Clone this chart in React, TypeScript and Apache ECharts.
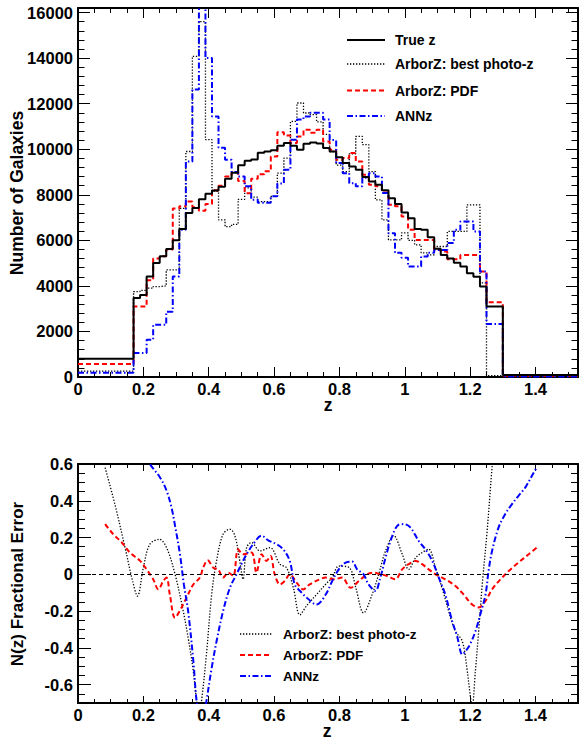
import React, { useEffect, useRef } from 'react';
import * as echarts from 'echarts';

// ---------- Top panel: histogram bins (z edges) ----------
const binEdges = [
  0, 0.17, 0.19, 0.21, 0.23, 0.25, 0.27, 0.29, 0.31, 0.33, 0.35, 0.37, 0.39, 0.41, 0.43, 0.45,
  0.47, 0.49, 0.51, 0.53, 0.55, 0.57, 0.59, 0.61, 0.63, 0.65, 0.67, 0.69, 0.71, 0.73, 0.75,
  0.77, 0.79, 0.81, 0.83, 0.85, 0.87, 0.89, 0.91, 0.93, 0.95, 0.97, 0.99, 1.01, 1.03, 1.05,
  1.07, 1.09, 1.11, 1.13, 1.15, 1.17, 1.19, 1.21, 1.23, 1.25, 1.3, 1.53,
];

const trueZCounts = [
  800, 3470, 3600, 4410, 5000, 5300, 5620, 6000, 6500, 7200, 7420, 7800, 8040, 8190, 8350,
  8700, 8970, 9300, 9490, 9550, 9850, 9900, 9950, 10150, 10270, 10150, 9980, 10240, 10300,
  10250, 10050, 9900, 9650, 9390, 9240, 9100, 8780, 8580, 8440, 8200, 7850, 7600, 7220, 6970,
  6500, 6460, 6140, 5630, 5360, 5200, 5020, 4850, 4560, 4400, 3970, 3090, 90,
];

const bestPhotoZCounts = [
  260, 3750, 3800, 3900, 3970, 4000, 4700, 4700, 7400, 9900, 14080, 15600, 10420, 8150, 6900,
  6600, 6700, 7800, 8300, 7900, 7700, 7700, 7930, 8950, 9610, 11220, 12030, 11590, 11520,
  11200, 10650, 9900, 9300, 9020, 9800, 10560, 10200, 9020, 7780, 6900, 6020, 6020, 6330, 6000,
  5800, 5450, 5360, 5730, 5730, 6390, 6390, 6390, 7560, 7560, 4130, 60, 80,
];

const pdfCounts = [
  570, 3100, 3100, 4250, 5200, 5300, 5600, 7400, 7500, 7700, 7450, 7300, 7600, 8200, 8400,
  8800, 9000, 8600, 8070, 8700, 8900, 9030, 9680, 10740, 10600, 10270, 10560, 10860, 10720,
  10860, 10340, 9980, 9540, 9610, 9830, 9460, 8880, 8440, 8370, 8100, 7560, 7500, 7050, 6460,
  6020, 6020, 6020, 5580, 5510, 5170, 5170, 5360, 5360, 5360, 4630, 3280, 50,
];

const annzCounts = [
  190, 1050, 1050, 1630, 2290, 2290, 2870, 4410, 6460, 9460, 12620, 16800, 14000, 11440, 10060,
  9540, 9000, 8800, 8370, 7780, 7650, 7650, 7930, 8500, 9100, 10420, 11300, 11440, 11600,
  11600, 11300, 10400, 9400, 8950, 8510, 8370, 8750, 8950, 8800, 8080, 6310, 5450, 5230, 4850,
  4850, 5290, 5450, 5580, 5580, 5880, 6460, 6830, 6830, 6390, 4630, 2330, 20,
];

// ---------- Bottom panel: fractional error curves ----------
const errBestZ = [
  0.083, 0.113, 0.144, 0.167, 0.182, 0.2, 0.22, 0.249, 0.271, 0.297, 0.322, 0.337, 0.353, 0.363,
  0.37, 0.378, 0.393, 0.409, 0.424, 0.444, 0.465, 0.48, 0.495, 0.505, 0.516, 0.531, 0.557, 0.587,
  0.618, 0.638, 0.659, 0.679, 0.7, 0.73, 0.76, 0.778, 0.798, 0.83, 0.85, 0.874, 0.9, 0.92, 0.941,
  0.966, 0.992, 1.012, 1.033, 1.053, 1.073, 1.094, 1.12, 1.14, 1.155, 1.176, 1.19, 1.2, 1.206,
  1.216, 1.226, 1.237, 1.252, 1.267, 1.275,
];
const errBestV = [
  0.58, 0.38, 0.145, -0.036, -0.118, 0.036, 0.164, 0.19, 0.145, 0, -0.2, -0.345, -0.53, -0.69,
  -0.78, -0.69, -0.436, -0.11, 0.073, 0.218, 0.245, 0.21, 0.073, -0.027, 0.145, 0.173, 0.127,
  0.145, 0.055, 0.036, -0.073, -0.22, -0.17, -0.11, -0.05, -0.018, 0.045, 0.036, -0.073, -0.21,
  -0.11, 0, 0.127, 0.21, 0.11, 0.027, 0.09, 0.118, 0.136, 0.036, -0.11, -0.236, -0.31, -0.364,
  -0.51, -0.655, -0.72, -0.527, -0.31, -0.055, 0.236, 0.58, 0.72,
];

const errPdfZ = [
  0.083, 0.108, 0.134, 0.159, 0.19, 0.21, 0.23, 0.246, 0.261, 0.271, 0.281, 0.297, 0.317, 0.332,
  0.353, 0.373, 0.383, 0.397, 0.414, 0.429, 0.444, 0.46, 0.475, 0.49, 0.505, 0.531, 0.546, 0.562,
  0.577, 0.589, 0.602, 0.618, 0.633, 0.648, 0.669, 0.689, 0.709, 0.74, 0.758, 0.783, 0.808,
  0.834, 0.86, 0.885, 0.905, 0.925, 0.946, 0.971, 0.992, 1.012, 1.033, 1.053, 1.073, 1.094,
  1.124, 1.155, 1.18, 1.206, 1.226, 1.247, 1.267, 1.293, 1.318, 1.348, 1.379, 1.41,
];
const errPdfV = [
  0.273, 0.218, 0.173, 0.118, 0.073, 0.027, -0.027, -0.082, -0.036, -0.018, -0.11, -0.236,
  -0.18, -0.127, -0.055, -0.018, 0.036, 0.076, 0.036, 0.027, -0.018, 0.009, -0.009, 0.136,
  0.109, 0.118, 0.009, 0.109, 0.073, 0.1, 0, -0.055, -0.036, 0, -0.045, -0.082, -0.055, -0.027,
  -0.018, -0.027, -0.018, -0.073, -0.036, 0, 0.009, 0, -0.009, -0.027, 0.027, 0.055, 0.073,
  0.055, 0.027, 0, -0.027, -0.064, -0.11, -0.164, -0.18, -0.145, -0.082, -0.027, 0.018, 0.064,
  0.109, 0.155,
];

const errAnnzZ = [
  0.205, 0.22, 0.251, 0.271, 0.286, 0.297, 0.312, 0.324, 0.337, 0.353, 0.363, 0.378, 0.393,
  0.409, 0.424, 0.444, 0.465, 0.485, 0.5, 0.516, 0.536, 0.562, 0.582, 0.607, 0.628, 0.648,
  0.663, 0.679, 0.7, 0.73, 0.758, 0.778, 0.798, 0.819, 0.839, 0.854, 0.874, 0.889, 0.91, 0.925,
  0.941, 0.956, 0.977, 0.997, 1.017, 1.043, 1.063, 1.084, 1.104, 1.124, 1.145, 1.16, 1.176,
  1.186, 1.2, 1.216, 1.231, 1.247, 1.257, 1.267, 1.287, 1.307, 1.328, 1.348, 1.369, 1.389, 1.404,
];
const errAnnzV = [
  0.66, 0.6, 0.527, 0.455, 0.364, 0.264, 0.109, -0.055, -0.2, -0.473, -0.69, -0.85, -0.69,
  -0.51, -0.364, -0.2, -0.073, 0, 0.055, 0.109, 0.164, 0.21, 0.185, 0.164, 0.136, 0.073,
  -0.055, -0.09, -0.127, -0.164, -0.11, -0.036, 0.027, 0.064, 0.069, 0.027, 0, -0.055, -0.09,
  -0.018, 0.09, 0.18, 0.264, 0.273, 0.255, 0.18, 0.136, 0.073, -0.018, -0.11, -0.255, -0.336,
  -0.436, -0.418, -0.38, -0.31, -0.218, -0.11, 0.027, 0.127, 0.255, 0.327, 0.382, 0.427, 0.473,
  0.536, 0.582,
];

const errYTicks = [-0.6, -0.4, -0.2, 0, 0.2, 0.4, 0.6];

const topLegend = ['True z', 'ArborZ: best photo-z', 'ArborZ: PDF', 'ANNz'];
const bottomLegend = ['ArborZ: best photo-z', 'ArborZ: PDF', 'ANNz'];

const FONT = '"Liberation Sans", Arial, Helvetica, sans-serif';
const X_MAX = 1.53;

const STYLE_TRUE = { color: '#000000', width: 2, type: 'solid' as any };
const STYLE_BEST = { color: '#000000', width: 1.3, type: [1.3, 1.7] as any };
const STYLE_PDF = { color: '#ff0000', width: 2, type: [5, 3] as any };
const STYLE_ANNZ = { color: '#0000ff', width: 2, type: [6, 2.5, 1.5, 2.5] as any };

function stepPoints(values: number[]) {
  const pts: number[][] = [];
  values.forEach((v, i) => {
    pts.push([binEdges[i], v]);
    pts.push([binEdges[i + 1], v]);
  });
  return pts;
}

function pairs(zs: number[], vs: number[]) {
  return zs.map((z, i) => [z, vs[i]]);
}

const plainNum = (v: number) => String(Math.round(v * 1000) / 1000);

const labelStyle = {
  color: '#000',
  fontSize: 16.5,
  fontWeight: 'bold' as any,
  fontFamily: FONT,
  formatter: plainNum,
};

function xAxisPair(grid: number, pos: 'bottom' | 'top', major: number, minor: number, labels: boolean) {
  return [
    {
      gridIndex: grid,
      type: 'value',
      position: pos,
      min: 0,
      max: X_MAX,
      interval: 0.2,
      axisLine: { show: true, onZero: false, lineStyle: { color: '#000', width: 2 } },
      axisTick: { show: true, inside: true, length: major, lineStyle: { color: '#000', width: 1 } },
      axisLabel: labels
        ? { show: true, margin: 3, showMaxLabel: false, showMinLabel: true, ...labelStyle }
        : { show: false },
      splitLine: { show: false },
    },
    {
      gridIndex: grid,
      type: 'value',
      position: pos,
      min: 0,
      max: X_MAX,
      interval: 0.05,
      axisLine: { show: false, onZero: false },
      axisTick: { show: true, inside: true, length: minor, lineStyle: { color: '#000', width: 1 } },
      axisLabel: { show: false },
      splitLine: { show: false },
    },
  ];
}

function legendGraphics(
  names: string[],
  styles: any[],
  ys: number[],
  x1: number,
  x2: number,
  tx: number,
  fontSize: number
) {
  const els: any[] = [];
  names.forEach((n, i) => {
    const s = styles[i];
    els.push({
      type: 'line',
      shape: { x1, y1: ys[i], x2, y2: ys[i] },
      style: {
        stroke: s.color,
        lineWidth: s.width,
        lineDash: Array.isArray(s.type) ? s.type : null,
      },
      z: 100,
    });
    els.push({
      type: 'text',
      x: tx,
      y: ys[i],
      style: {
        text: n,
        fill: '#000',
        fontSize,
        fontWeight: 'bold',
        fontFamily: FONT,
        align: 'left',
        verticalAlign: 'middle',
      },
      z: 100,
    });
  });
  return els;
}

export default function App() {
  const ref = useRef<HTMLDivElement>(null);

  useEffect(() => {
    if (!ref.current) return;
    const chart = echarts.init(ref.current, null, { renderer: 'svg' });

    const xAxes = [
      ...xAxisPair(0, 'bottom', 10, 5, true),
      ...xAxisPair(0, 'top', 10, 5, false),
      ...xAxisPair(1, 'bottom', 7, 4, true),
      ...xAxisPair(1, 'top', 7, 4, false),
    ];

    const topY = (pos: 'left' | 'right', labels: boolean) => [
      {
        gridIndex: 0,
        type: 'value',
        position: pos,
        min: 0,
        max: 16200,
        interval: 2000,
        axisLine: { show: true, onZero: false, lineStyle: { color: '#000', width: 2 } },
        axisTick: { show: true, inside: true, length: 12, lineStyle: { color: '#000', width: 1 } },
        axisLabel: labels
          ? { show: true, margin: 5, showMaxLabel: false, showMinLabel: true, ...labelStyle }
          : { show: false },
        splitLine: { show: false },
      },
      {
        gridIndex: 0,
        type: 'value',
        position: pos,
        min: 0,
        max: 16200,
        interval: 400,
        axisLine: { show: false, onZero: false },
        axisTick: { show: true, inside: true, length: 6.5, lineStyle: { color: '#000', width: 1 } },
        axisLabel: { show: false },
        splitLine: { show: false },
      },
    ];

    const botY = (pos: 'left' | 'right', labels: boolean) => [
      {
        gridIndex: 1,
        type: 'value',
        position: pos,
        min: -0.7,
        max: 0.6,
        axisLine: { show: true, onZero: false, lineStyle: { color: '#000', width: 2 } },
        axisTick: {
          show: true,
          inside: true,
          length: 13,
          customValues: errYTicks,
          lineStyle: { color: '#000', width: 1 },
        },
        axisLabel: labels
          ? { show: true, margin: 5, customValues: errYTicks, ...labelStyle }
          : { show: false },
        splitLine: { show: false },
      },
      {
        gridIndex: 1,
        type: 'value',
        position: pos,
        min: -0.7,
        max: 0.6,
        interval: 0.05,
        axisLine: { show: false, onZero: false },
        axisTick: { show: true, inside: true, length: 7, lineStyle: { color: '#000', width: 1 } },
        axisLabel: { show: false },
        splitLine: { show: false },
      },
    ];

    const yAxes = [...topY('left', true), ...topY('right', false), ...botY('left', true), ...botY('right', false)];

    const lineBase = { type: 'line', showSymbol: false, symbol: 'none', silent: true, clip: true };

    const option: any = {
      animation: false,
      backgroundColor: '#ffffff',
      grid: [
        { left: 78, right: 1, top: 8, height: 369, containLabel: false },
        { left: 78, right: 1, top: 464, height: 239, containLabel: false },
      ],
      xAxis: xAxes,
      yAxis: yAxes,
      series: [
        { ...lineBase, name: 'True z', xAxisIndex: 0, yAxisIndex: 0, data: stepPoints(trueZCounts), lineStyle: STYLE_TRUE, z: 5 },
        { ...lineBase, name: 'ArborZ: best photo-z', xAxisIndex: 0, yAxisIndex: 0, data: stepPoints(bestPhotoZCounts), lineStyle: STYLE_BEST, z: 4 },
        { ...lineBase, name: 'ArborZ: PDF', xAxisIndex: 0, yAxisIndex: 0, data: stepPoints(pdfCounts), lineStyle: STYLE_PDF, z: 4 },
        { ...lineBase, name: 'ANNz', xAxisIndex: 0, yAxisIndex: 0, data: stepPoints(annzCounts), lineStyle: STYLE_ANNZ, z: 4 },
        {
          ...lineBase,
          name: 'err best',
          xAxisIndex: 4,
          yAxisIndex: 4,
          smooth: 0.35,
          data: pairs(errBestZ, errBestV),
          lineStyle: STYLE_BEST,
          markLine: {
            silent: true,
            symbol: 'none',
            label: { show: false },
            lineStyle: { color: '#000', width: 1, type: [4, 3] },
            data: [{ yAxis: 0 }],
          },
        },
        { ...lineBase, name: 'err pdf', xAxisIndex: 4, yAxisIndex: 4, smooth: 0.35, data: pairs(errPdfZ, errPdfV), lineStyle: STYLE_PDF },
        { ...lineBase, name: 'err annz', xAxisIndex: 4, yAxisIndex: 4, smooth: 0.35, data: pairs(errAnnzZ, errAnnzV), lineStyle: STYLE_ANNZ },
      ],
      graphic: [
        {
          type: 'text',
          x: 17,
          y: 193,
          rotation: Math.PI / 2,
          style: {
            text: 'Number of Galaxies',
            fill: '#000',
            fontSize: 17.5,
            fontWeight: 'bold',
            fontFamily: FONT,
            align: 'center',
            verticalAlign: 'middle',
          },
        },
        {
          type: 'text',
          x: 17,
          y: 584,
          rotation: Math.PI / 2,
          style: {
            text: 'N(z) Fractional Error',
            fill: '#000',
            fontSize: 17,
            fontWeight: 'bold',
            fontFamily: FONT,
            align: 'center',
            verticalAlign: 'middle',
          },
        },
        {
          type: 'text',
          x: 328,
          y: 404.5,
          style: { text: 'z', fill: '#000', fontSize: 17.5, fontWeight: 'bold', fontFamily: FONT, align: 'center', verticalAlign: 'middle' },
        },
        {
          type: 'text',
          x: 327,
          y: 730.5,
          style: { text: 'z', fill: '#000', fontSize: 17.5, fontWeight: 'bold', fontFamily: FONT, align: 'center', verticalAlign: 'middle' },
        },
        ...legendGraphics(topLegend, [STYLE_TRUE, STYLE_BEST, STYLE_PDF, STYLE_ANNZ], [40, 64, 90.5, 116], 347, 385, 395, 14),
        ...legendGraphics(bottomLegend, [STYLE_BEST, STYLE_PDF, STYLE_ANNZ], [634, 655, 676], 240, 272, 283, 13.5),
      ],
    };

    chart.setOption(option);
    return () => chart.dispose();
  }, []);

  return <div ref={ref} style={{ position: 'absolute', left: 0, top: 0, width: 579, height: 740 }} />;
}
